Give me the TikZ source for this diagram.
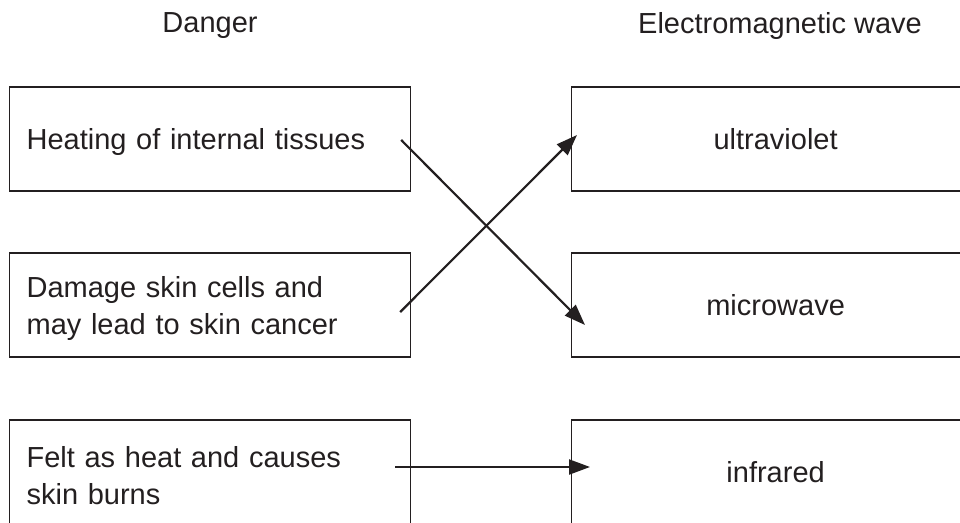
\documentclass[tikz,border=0pt]{standalone}
\usepackage{fontspec}
\setmainfont{Liberation Sans}
\usetikzlibrary{arrows.meta,positioning,calc}
\definecolor{inkgray}{HTML}{231F20}
\newcommand{\boxstrut}{\rule{0pt}{28pt}}

\tikzset{
  heading/.style={text=inkgray, font=\fontsize{29}{37.5}\selectfont},
  dangerbox/.style={draw=inkgray, line width=1.2pt, anchor=west,
    minimum width=401pt, minimum height=104pt, inner xsep=17pt, inner ysep=0pt,
    text width=367pt, align=left, text=inkgray,
    font=\fontsize{29}{37.5}\selectfont, execute at begin node=\boxstrut},
  wavebox/.style={draw=inkgray, line width=1.2pt, anchor=west,
    minimum width=408pt, minimum height=104pt, inner sep=0pt,
    align=center, text=inkgray, font=\fontsize{29}{37.5}\selectfont},
  match/.style={-{Triangle[length=21pt,width=15pt]}, line width=2.2pt, draw=inkgray},
}

\begin{document}
\begin{tikzpicture}[x=1pt, y=-1pt]
  \path[use as bounding box, clip] (0,0) rectangle (960,522);
  % Column headings
  \node[heading] (dangerhead) at (210,26) {Danger};
  \node[heading] (wavehead) at (780,26) {Electromagnetic wave};
  % Dangers
  \node[dangerbox] (heating) at (9,139) {Heating of internal tissues};
  \node[dangerbox] (damage) at (9,305) {Damage skin cells and\\may lead to skin cancer};
  \node[dangerbox] (felt) at (9,472) {Felt as heat and causes\\skin burns};
  % Waves
  \node[wavebox] (uv) at (571,139) {ultraviolet};
  \node[wavebox] (micro) at (571,305) {microwave};
  \node[wavebox] (ir) at (571,472) {infrared};
  % Arrow ends
  \coordinate (heatfrom) at ($(heating.east)+(-10,1)$);
  \coordinate (microto) at ($(micro.west)+(14,20)$);
  \coordinate (damagefrom) at ($(damage.east)+(-11,7)$);
  \coordinate (uvto) at ($(uv.west)+(6,-4)$);
  \coordinate (feltfrom) at ($(felt.east)+(-16,-5)$);
  \coordinate (irto) at ($(ir.west)+(19,-5)$);
  % Matches
  \draw[match] (heatfrom) -- (microto);
  \draw[match] (damagefrom) -- (uvto);
  \draw[match] (feltfrom) -- (irto);
\end{tikzpicture}
\end{document}
